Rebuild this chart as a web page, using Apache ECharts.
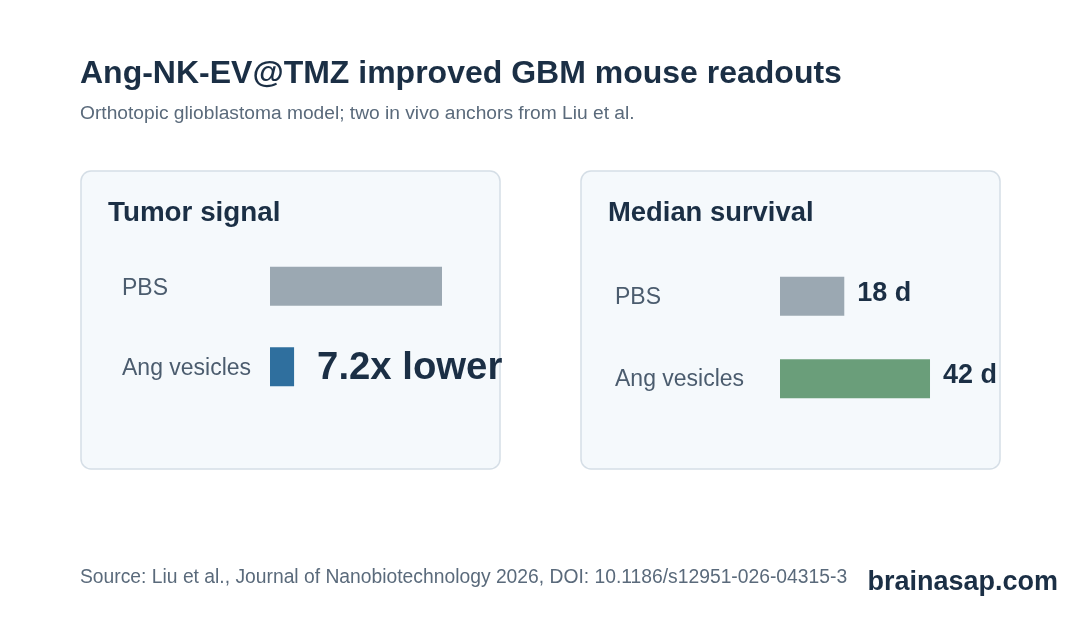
<!DOCTYPE html>
<html>
<head>
<meta charset="utf-8">
<script src="https://cdn.jsdelivr.net/npm/echarts@6/dist/echarts.min.js"></script>
<style>
html,body{margin:0;padding:0;background:#ffffff;}
#chart{width:1080px;height:640px;}
</style>
</head>
<body>
<div id="chart"></div>
<script>
// ---- data ----
const categories = ['PBS', 'Ang vesicles'];
const tumorSignal = [1.0, 0.14];            // relative tumor signal (PBS = 1)
const tumorLabels = ['', '7.2x lower'];
const survivalDays = [18, 42];              // median survival, days
const survivalLabels = ['18 d', '42 d'];
const panelTitles = ['Tumor signal', 'Median survival'];

const FONT = '"Liberation Sans", Arial, Helvetica, sans-serif';
const DARK = '#1b2f45';
const GREY_TXT = '#5a6a7b';
const LABEL_TXT = '#4b5c6e';
const PBS_COLOR = '#9ba8b2';

const chart = echarts.init(document.getElementById('chart'), null, {renderer: 'canvas'});

function txt(x, y, text, size, weight, color, align) {
  return {
    type: 'text', x: x, y: y, z: 10,
    style: {text: text, fontFamily: FONT, fontSize: size, fontWeight: weight,
            fill: color, align: align || 'left', verticalAlign: 'middle'}
  };
}
function panel(x) {
  return {
    type: 'rect', z: 0,
    shape: {x: x, y: 171, width: 419, height: 298, r: 10},
    style: {fill: '#f5f9fc', stroke: '#d5dee6', lineWidth: 1.5}
  };
}

const option = {
  animation: false,
  backgroundColor: '#ffffff',
  graphic: [
    panel(81), panel(581),
    txt(80, 74.5, 'Ang-NK-EV@TMZ improved GBM mouse readouts', 32, 'bold', DARK),
    txt(80, 113.5, 'Orthotopic glioblastoma model; two in vivo anchors from Liu et al.', 19.2, 'normal', GREY_TXT),
    txt(108, 213.5, panelTitles[0], 27.8, 'bold', DARK),
    txt(608, 213.5, panelTitles[1], 27.4, 'bold', DARK),
    txt(80, 578, 'Source: Liu et al., Journal of Nanobiotechnology 2026, DOI: 10.1186/s12951-026-04315-3', 19.3, 'normal', GREY_TXT),
    txt(1058, 582.5, 'brainasap.com', 27, 'bold', DARK, 'right')
  ],
  grid: [
    {left: 270, top: 246, width: 172, height: 161},
    {left: 780, top: 255, width: 214.3, height: 165}
  ],
  xAxis: [
    {gridIndex: 0, type: 'value', min: 0, max: 1, show: false},
    {gridIndex: 1, type: 'value', min: 0, max: 60, show: false}
  ],
  yAxis: [
    {gridIndex: 0, type: 'category', data: categories, inverse: true,
     axisLine: {show: false}, axisTick: {show: false}, splitLine: {show: false},
     axisLabel: {align: 'left', verticalAlign: 'top', lineHeight: 4, margin: 148,
                 fontFamily: FONT, fontSize: 23, color: LABEL_TXT}},
    {gridIndex: 1, type: 'category', data: categories, inverse: true,
     axisLine: {show: false}, axisTick: {show: false}, splitLine: {show: false},
     axisLabel: {align: 'left', verticalAlign: 'top', lineHeight: 2, margin: 165,
                 fontFamily: FONT, fontSize: 23, color: LABEL_TXT}}
  ],
  series: [
    {
      type: 'bar', xAxisIndex: 0, yAxisIndex: 0, barWidth: 39,
      data: tumorSignal.map((v, i) => ({
        value: v,
        itemStyle: {color: i === 0 ? PBS_COLOR : '#2f6f9e'},
        label: {show: tumorLabels[i] !== '', formatter: tumorLabels[i]}
      })),
      label: {position: 'right', distance: 23, offset: [0, 1.5], fontFamily: FONT, fontSize: 38.3,
              fontWeight: 'bold', color: DARK}
    },
    {
      type: 'bar', xAxisIndex: 1, yAxisIndex: 1, barWidth: 39,
      data: survivalDays.map((v, i) => ({
        value: v,
        itemStyle: {color: i === 0 ? PBS_COLOR : '#6a9e7a'},
        label: {show: true, formatter: survivalLabels[i]}
      })),
      label: {position: 'right', distance: 13, offset: [0, -3], fontFamily: FONT, fontSize: 27,
              fontWeight: 'bold', color: DARK}
    }
  ]
};
chart.setOption(option);
</script>
</body>
</html>
